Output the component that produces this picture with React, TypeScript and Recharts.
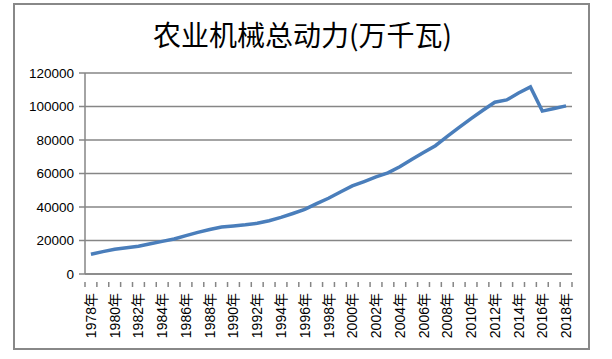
import React from 'react';
import { LineChart, Line, XAxis, YAxis, CartesianGrid } from 'recharts';

const years = [
  '1978年', '1979年', '1980年', '1981年', '1982年', '1983年', '1984年', '1985年', '1986年', '1987年',
  '1988年', '1989年', '1990年', '1991年', '1992年', '1993年', '1994年', '1995年', '1996年', '1997年',
  '1998年', '1999年', '2000年', '2001年', '2002年', '2003年', '2004年', '2005年', '2006年', '2007年',
  '2008年', '2009年', '2010年', '2011年', '2012年', '2013年', '2014年', '2015年', '2016年', '2017年',
  '2018年',
];

const power = [
  11750, 13379, 14746, 15680, 16614, 18022, 19497, 20913, 22950, 24836,
  26575, 28067, 28708, 29389, 30308, 31817, 33803, 36118, 38547, 42016,
  45208, 48996, 52574, 55172, 57930, 60387, 64028, 68398, 72522, 76590,
  82190, 87496, 92781, 97735, 102559, 103907, 108057, 111728, 97246, 98783,
  100372,
];

const yTicks = [0, 20000, 40000, 60000, 80000, 100000, 120000];

const data = years.map((year, i) => ({ year, power: power[i] }));

const GRID = '#868686';
const PLOT_LEFT = 85;
const PLOT_RIGHT = 572;
const BAND = (PLOT_RIGHT - PLOT_LEFT) / years.length;

function YearTick(props: any) {
  const { x, y, payload, index } = props;
  const last = index === years.length - 1;
  return (
    <g>
      <line x1={x - BAND / 2} y1={y} x2={x - BAND / 2} y2={y + 5} stroke={GRID} strokeWidth={1.5} />
      {last && <line x1={x + BAND / 2} y1={y} x2={x + BAND / 2} y2={y + 5} stroke={GRID} strokeWidth={1.5} />}
      {index % 2 === 0 && (
        <text
          x={x}
          y={y + 11}
          transform={`rotate(-90 ${x} ${y + 11})`}
          textAnchor="end"
          dominantBaseline="central"
          fontSize={14}
          fontFamily="'Liberation Sans', 'Noto Sans CJK SC', sans-serif"
          fill="#000"
        >
          {payload.value}
        </text>
      )}
    </g>
  );
}

export default function App() {
  return (
    <div style={{ position: 'absolute', left: 0, top: 0, width: 612, height: 359, background: '#fff' }}>
      <div
        style={{
          position: 'absolute',
          left: 13,
          top: 3,
          width: 577,
          height: 347,
          border: '2px solid #888',
          boxSizing: 'border-box',
        }}
      />
      <div
        style={{
          position: 'absolute',
          left: 0,
          width: 605,
          top: 18,
          textAlign: 'center',
          fontFamily: "'Noto Sans CJK SC', sans-serif",
          fontSize: 28,
          lineHeight: '32px',
          color: '#000',
        }}
      >
        农业机械总动力(万千瓦)
      </div>
      <LineChart
        width={612}
        height={359}
        data={data}
        margin={{ top: 73, right: 612 - PLOT_RIGHT, left: 0, bottom: 0 }}
        style={{ position: 'absolute', left: 0, top: 0 }}
      >
        <CartesianGrid vertical={false} stroke={GRID} strokeWidth={1.5} />
        <XAxis
          dataKey="year"
          scale="band"
          interval={0}
          height={85}
          axisLine={{ stroke: GRID, strokeWidth: 1.5 }}
          tickLine={false}
          tick={<YearTick />}
        />
        <YAxis
          width={PLOT_LEFT}
          domain={[0, 120000]}
          ticks={yTicks}
          interval={0}
          tickSize={6}
          tickMargin={5}
          axisLine={{ stroke: GRID, strokeWidth: 1.5 }}
          tickLine={{ stroke: GRID, strokeWidth: 1.5 }}
          tick={{ fill: '#000', fontSize: 13.5, fontFamily: "'Liberation Sans', sans-serif" }}
        />
        <Line
          type="linear"
          dataKey="power"
          stroke="#4A7EBB"
          strokeWidth={3.5}
          dot={false}
          isAnimationActive={false}
        />
      </LineChart>
    </div>
  );
}
